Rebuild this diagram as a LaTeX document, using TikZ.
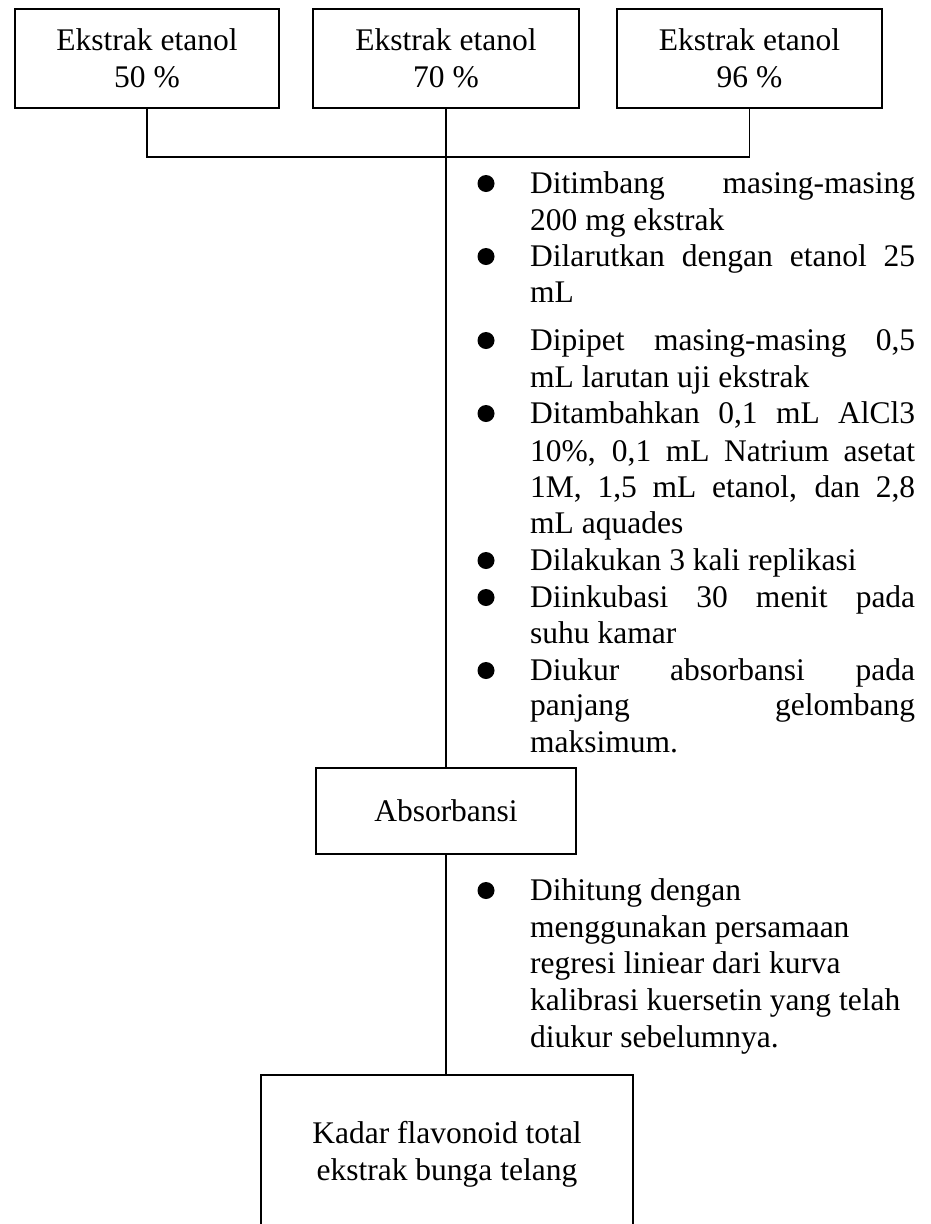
\documentclass[tikz,border=0pt]{standalone}
\usepackage{fontspec}
\setmainfont{Liberation Serif}
\newcommand\J[1]{\makebox[385pt][s]{#1}}
\begin{document}
\begin{tikzpicture}[x=1pt,y=-1pt,
  box/.style={draw, line width=1.8pt, inner sep=0pt, align=center, font=\fontsize{31.5}{37}\selectfont},
  conn/.style={line width=1.4pt},
  thickconn/.style={line width=2.6pt},
  txt/.style={anchor=base west, inner sep=0pt, font=\fontsize{31.5}{36.6}\selectfont},
  dot/.style={circle, fill, inner sep=0pt, minimum size=17pt}]
\useasboundingbox (0,0) rectangle (930,1224);
\fill[white] (0,0) rectangle (930,1224);
\clip (0,0) rectangle (930,1224);

% top boxes
\node[box, minimum width=264pt, minimum height=99pt] (b1) at (147,58.5) {Ekstrak etanol\\50 \%};
\node[box, minimum width=266pt, minimum height=99pt] (b2) at (446,58.5) {Ekstrak etanol\\70 \%};
\node[box, minimum width=265pt, minimum height=99pt] (b3) at (749.5,58.5) {Ekstrak etanol\\96 \%};

% middle and bottom boxes
\node[box, minimum width=260pt, minimum height=86pt] (abs) at (446,811) {Absorbansi};
\node[box, minimum width=372pt, minimum height=158pt] (kad) at (447,1154) {Kadar flavonoid total\\ekstrak bunga telang};

% connectors
\coordinate (j) at (446,157);
\draw[conn] (b1.south) |- (j) -| (b3.south);
\draw[conn] (b2.south) -- (abs.north);
\coordinate (t1) at (446,128);
\coordinate (t2) at (446,285);
\draw[thickconn] (t1) -- (t2);
\draw[conn] (abs.south) -- (kad.north -| abs.south);

% first list
\node[txt] (l1) at (530,193) {\J{Ditimbang masing-masing}};
\node[txt] (l2) at (530,230) {200 mg ekstrak};
\node[txt] (l3) at (530,266) {\J{Dilarutkan dengan etanol 25}};
\node[txt] (l4) at (530,302) {mL};
\node[txt] (l5) at (530,350) {\J{Dipipet masing-masing 0,5}};
\node[txt] (l6) at (530,387) {mL larutan uji ekstrak};
\node[txt] (l7) at (530,423) {\J{Ditambahkan 0,1 mL AlCl3}};
\node[txt] (l8) at (530,461) {\J{10\%, 0,1 mL Natrium asetat}};
\node[txt] (l9) at (530,497) {\J{1M, 1,5 mL etanol, dan 2,8}};
\node[txt] (l10) at (530,533) {mL aquades};
\node[txt] (l11) at (530,570) {Dilakukan 3 kali replikasi};
\node[txt] (l12) at (530,607) {\J{Diinkubasi 30 menit pada}};
\node[txt] (l13) at (530,643) {suhu kamar};
\node[txt] (l14) at (530,680) {\J{Diukur absorbansi pada}};
\node[txt] (l15) at (530,715) {\J{panjang gelombang}};
\node[txt] (l16) at (530,752) {maksimum.};

\node[dot] (d1) at (486,183.5) {};
\node[dot] (d2) at (486,256.5) {};
\node[dot] (d3) at (486,340.5) {};
\node[dot] (d4) at (486,413.5) {};
\node[dot] (d5) at (486,560.5) {};
\node[dot] (d6) at (486,597.5) {};
\node[dot] (d7) at (486,670.5) {};

% second list
\node[txt] (m1) at (530,900) {Dihitung dengan};
\node[txt] (m2) at (530,937) {menggunakan persamaan};
\node[txt] (m3) at (530,973) {regresi liniear dari kurva};
\node[txt] (m4) at (530,1010) {kalibrasi kuersetin yang telah};
\node[txt] (m5) at (530,1047) {diukur sebelumnya.};
\node[dot] (d8) at (486,890.5) {};
\end{tikzpicture}
\end{document}
